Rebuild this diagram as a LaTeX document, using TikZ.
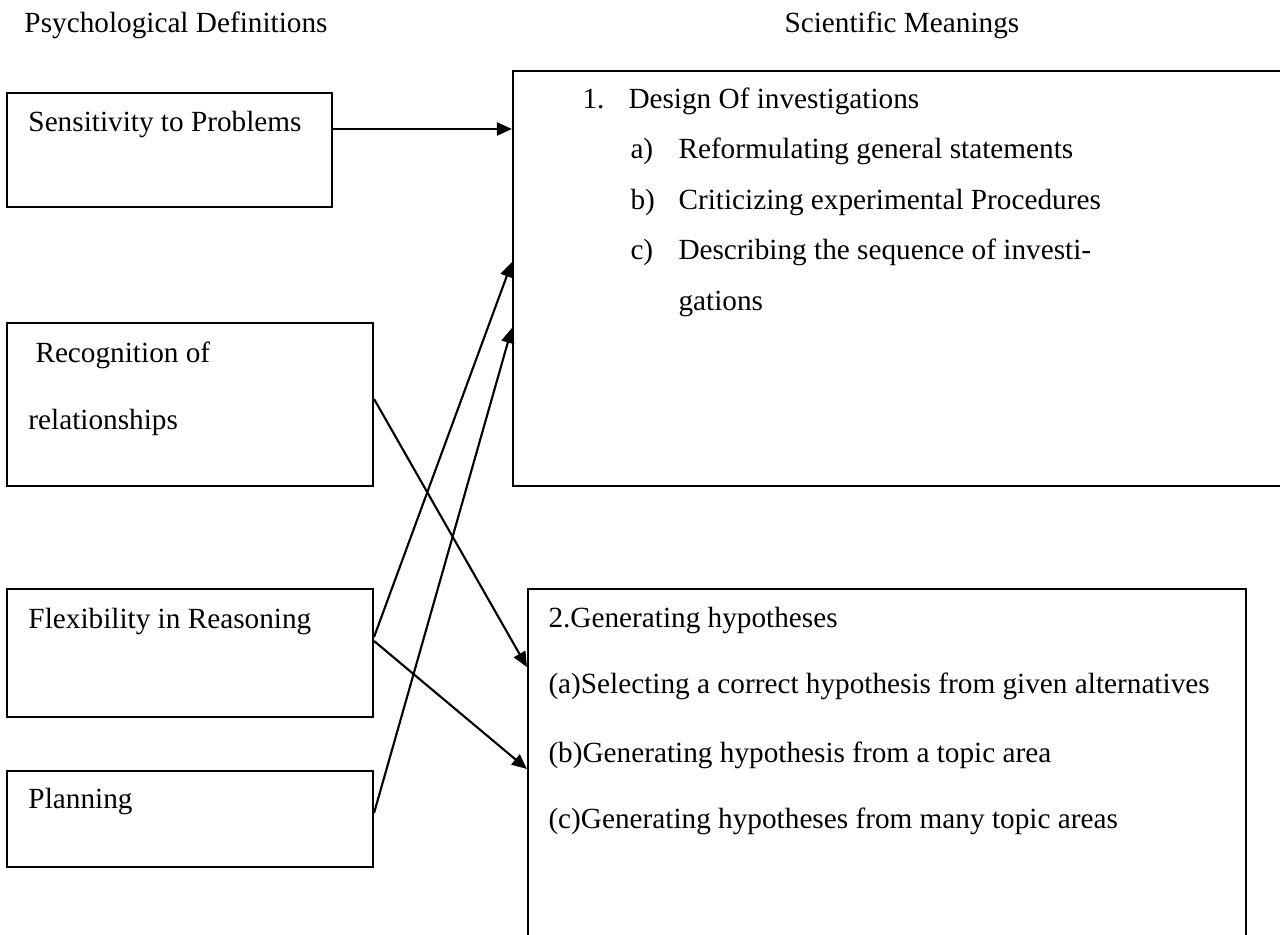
\documentclass[tikz,border=0pt]{standalone}
\usepackage{fontspec}
\setmainfont{Liberation Serif}
\usetikzlibrary{arrows.meta,fit}

\begin{document}
\begin{tikzpicture}[x=.4pt,y=-.4pt,>={Triangle[length=6pt,width=5.2pt]},
  font=\fontsize{11.7}{14}\selectfont,
  box/.style={draw,line width=.85pt,inner sep=0pt},
  flow/.style={->,line width=.85pt},
  txt/.style={anchor=base west,inner sep=0pt}]
\useasboundingbox (0,0) rectangle (1280,934);
% column heads
\node[txt] (headpsy) at (24,32) {Psychological Definitions};
\node[txt] (headsci) at (784,32) {Scientific Meanings};
% psychological side
\node[box,fit={(7,93)(332,207)}] (sens) {};
\node[txt] (senstxt) at (28,131) {Sensitivity to Problems};
\node[box,fit={(7,323)(373,486)}] (recog) {};
\node[txt] (recogtxt) at (35,362) {Recognition of};
\node[txt] (reltxt) at (28,429) {relationships};
\node[box,fit={(7,589)(373,717)}] (flex) {};
\node[txt] (flextxt) at (28,628) {Flexibility in Reasoning};
\node[box,fit={(7,771)(373,867)}] (plan) {};
\node[txt] (plantxt) at (28,808) {Planning};
% scientific side
\node[box,fit={(513,71)(1300,486)}] (design) {};
\node[txt] (dnum) at (582,108) {1.};
\node[txt] (dtxt) at (628,108) {Design Of investigations};
\foreach \y/\l/\t in {158/a/Reformulating general statements,
  209/b/Criticizing experimental Procedures,
  259/c/Describing the sequence of investi-}{
 \node[txt] (dlab\l) at (630,\y) {\l)};
 \node[txt] (ditem\l) at (678,\y) {\t};
}
\node[txt] (ditemc2) at (678,310) {gations};
\node[box,fit={(528,589)(1246,960)}] (gen) {};
\node[txt] (gtxt) at (548,627) {2.Generating hypotheses};
\node[txt] (gitema) at (548,693) {(a)Selecting a correct hypothesis from given alternatives};
\node[txt] (gitemb) at (548,762) {(b)Generating hypothesis from a topic area};
\node[txt] (gitemc) at (548,828) {(c)Generating hypotheses from many topic areas};
% links
\draw[flow] (sens.east |- 0,129) -- (design.west |- 0,129);
\draw[flow] (recog.east |- 0,399) -- (gen.west |- 0,667);
\draw[flow] (flex.east |- 0,637) -- (design.west |- 0,262);
\draw[flow] (flex.east |- 0,641) -- (gen.west |- 0,769);
\draw[flow] (plan.east |- 0,813) -- (design.west |- 0,328);
\end{tikzpicture}
\end{document}
